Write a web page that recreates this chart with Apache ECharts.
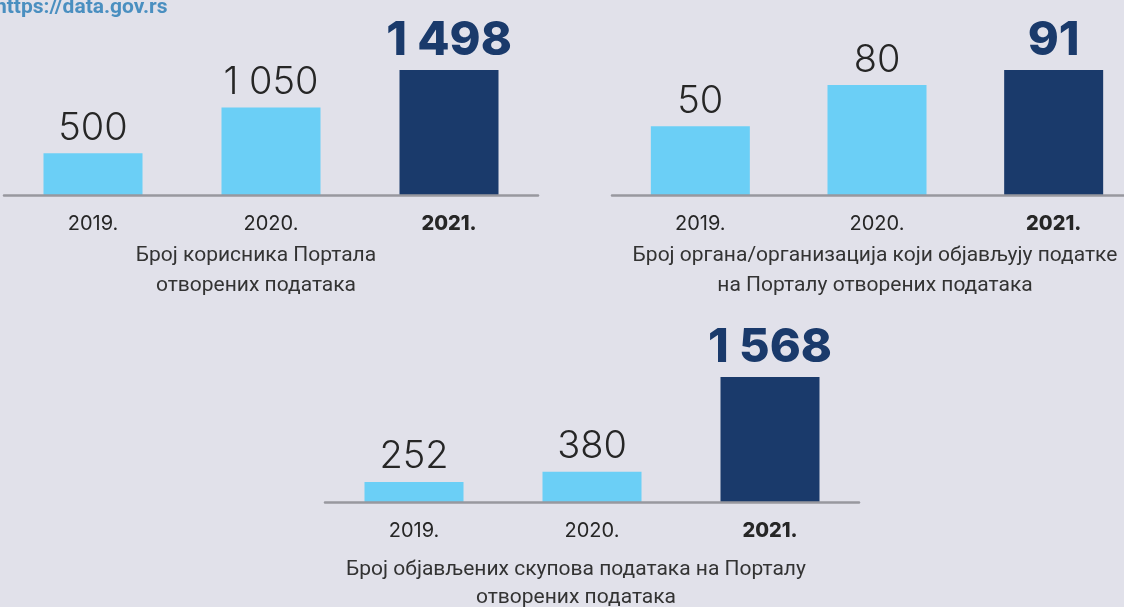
<!DOCTYPE html>
<html>
<head>
<meta charset="utf-8">
<script src="https://cdn.jsdelivr.net/npm/echarts@6/dist/echarts.min.js"></script>
<style>
  html, body { margin: 0; padding: 0; background: #e1e1ea; overflow: hidden; }
  /* canvas runs a little past the right edge so the last panel's axis can bleed off */
  #chart { width: 1144px; height: 607px; }
</style>
</head>
<body>
<div id="chart"></div>
<script>
// Years shown under each panel
const years = ['2019.', '2020.', '2021.'];

// Panel values
const portalUsers = [500, 1050, 1498];
const publishingOrgs = [50, 80, 91];
const publishedDatasets = [252, 380, 1568];

// Panel captions
const captionUsers = ['Број корисника Портала', 'отворених података'];
const captionOrgs = ['Број органа/организација који објављују податке', 'на Порталу отворених података'];
const captionDatasets = ['Број објављених скупова података на Порталу', 'отворених података'];

const sourceText = 'https://data.gov.rs';

const LIGHT = '#6bcff6';
const DARK = '#1a3a6b';
const INK = '#262626';
const NUM_FONT = 'Inter, "Noto Sans", sans-serif';

function fmt(v) {
  return String(v).replace(/\B(?=(\d{3})+(?!\d))/g, ' ');
}

function barItems(values) {
  return values.map((v, i) => {
    const last = i === values.length - 1;
    return {
      value: v,
      itemStyle: { color: last ? DARK : LIGHT },
      label: last
        ? { fontSize: 47, fontWeight: 800, color: DARK, distance: 6 }
        : { fontSize: 38, fontWeight: 300, color: INK, distance: 6 }
    };
  });
}

const panels = [
  { values: portalUsers, grid: { left: 4, top: 70, width: 534, height: 125 } },
  { values: publishingOrgs, grid: { left: 612, top: 70, width: 530, height: 125 } },
  { values: publishedDatasets, grid: { left: 325, top: 377, width: 534, height: 125 } }
];

const option = {
  backgroundColor: '#e1e1ea',
  animation: false,
  grid: panels.map(p => Object.assign({ containLabel: false }, p.grid)),
  xAxis: panels.map((p, k) => ({
    type: 'category',
    gridIndex: k,
    data: years,
    z: 5,
    axisLine: { show: true, lineStyle: { color: '#98989f', width: 2.5 } },
    axisTick: { show: false },
    axisLabel: {
      margin: 19,
      fontFamily: NUM_FONT,
      fontSize: 20,
      color: INK,
      formatter: (v, i) => (i === years.length - 1 ? '{b|' + v + '}' : v),
      rich: { b: { fontFamily: NUM_FONT, fontSize: 20, fontWeight: 800, color: INK } }
    }
  })),
  yAxis: panels.map((p, k) => ({
    type: 'value',
    gridIndex: k,
    min: 0,
    max: 'dataMax',
    show: false,
    splitLine: { show: false }
  })),
  series: panels.map((p, k) => ({
    type: 'bar',
    xAxisIndex: k,
    yAxisIndex: k,
    barWidth: 99,
    data: barItems(p.values),
    label: {
      show: true,
      position: 'top',
      fontFamily: NUM_FONT,
      formatter: (prm) => fmt(prm.value)
    }
  })),
  graphic: [
    {
      type: 'text', left: -5, top: -3,
      style: { text: sourceText, font: 'bold 21px Roboto', fill: '#4a8fc0' }
    },
    ...[
      { lines: captionUsers, x: 256, y: 256, gap: 30 },
      { lines: captionOrgs, x: 875, y: 256, gap: 30 },
      { lines: captionDatasets, x: 576, y: 570, gap: 28 }
    ].flatMap(c => c.lines.map((t, j) => ({
      type: 'text',
      x: c.x,
      y: c.y + j * c.gap,
      style: {
        text: t,
        font: '21px Roboto',
        fill: '#333333',
        textAlign: 'center',
        textVerticalAlign: 'middle'
      }
    })))
  ]
};

const chart = echarts.init(document.getElementById('chart'), null, { renderer: 'canvas' });
chart.setOption(option);
</script>
</body>
</html>
